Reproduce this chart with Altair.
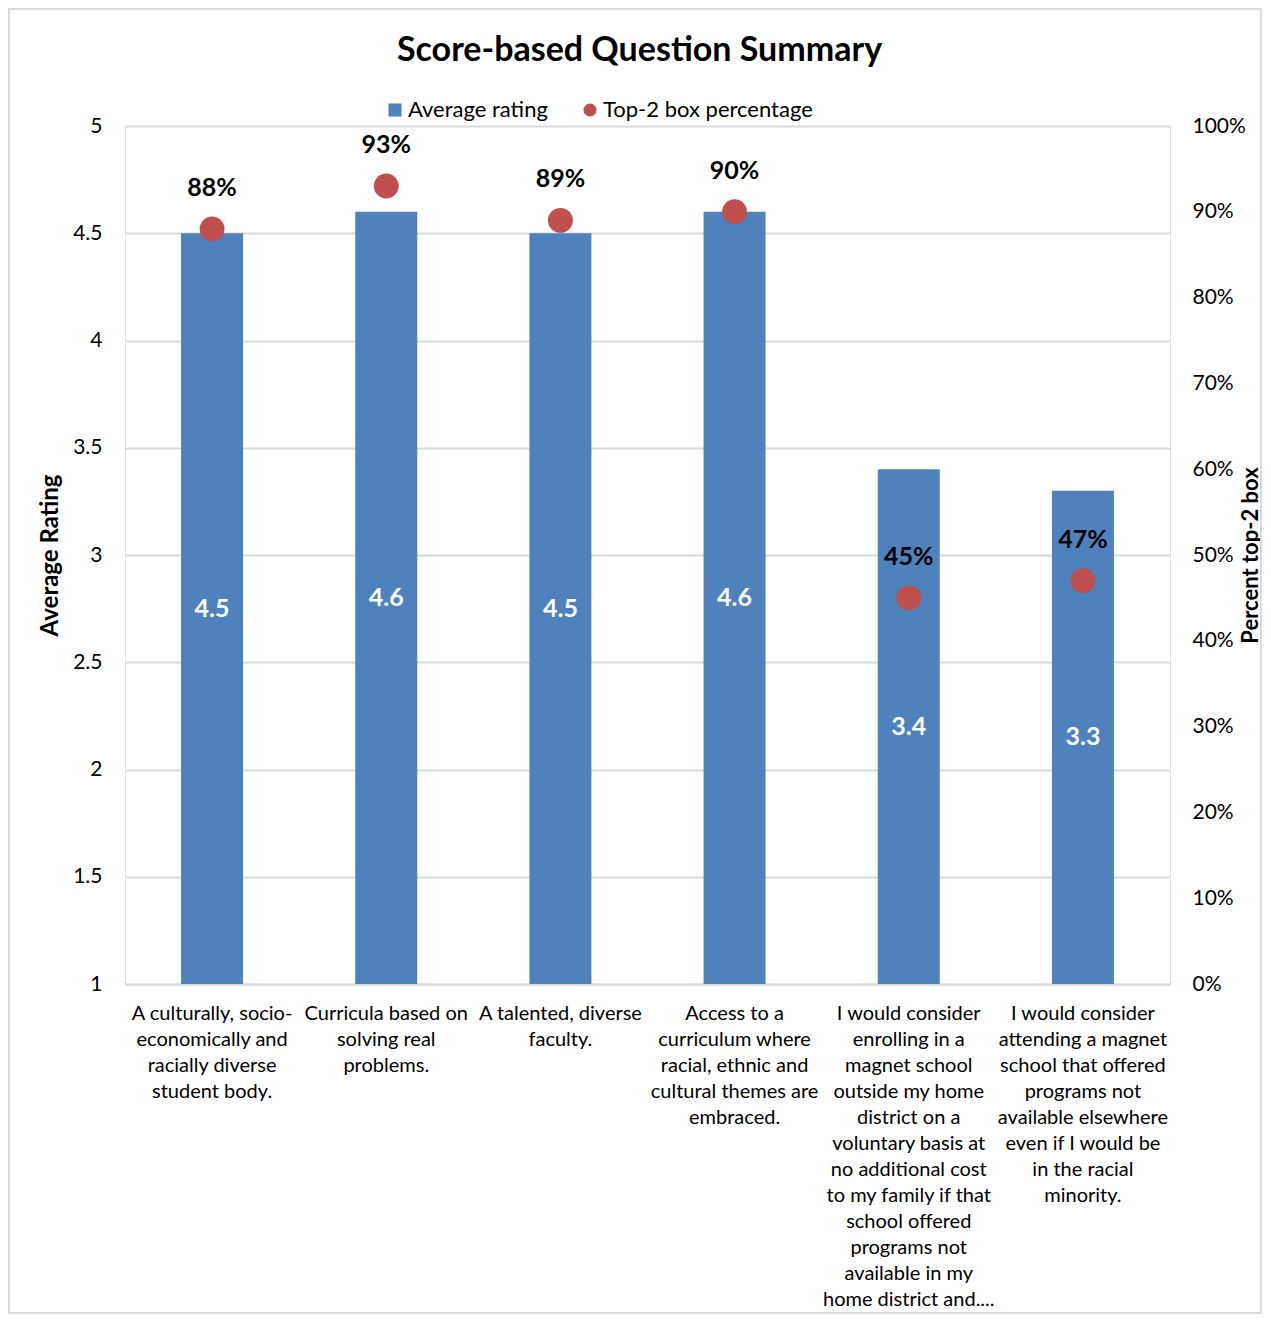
import altair as alt
import pandas as pd

categories = [
    "A culturally, socio-|economically and|racially diverse|student body.",
    "Curricula based on|solving real|problems.",
    "A talented, diverse|faculty.",
    "Access to a|curriculum where|racial, ethnic and|cultural themes are|embraced.",
    "I would consider|enrolling in a|magnet school|outside my home|district on a|voluntary basis at|no additional cost|to my family if that|school offered|programs not|available in my|home district and....",
    "I would consider|attending a magnet|school that offered|programs not|available elsewhere|even if I would be|in the racial|minority.",
]
avg_rating = [4.5, 4.6, 4.5, 4.6, 3.4, 3.3]
top2_pct = [0.88, 0.93, 0.89, 0.90, 0.45, 0.47]
left_ticks = [1, 1.5, 2, 2.5, 3, 3.5, 4, 4.5, 5]
right_ticks = [0, 0.1, 0.2, 0.3, 0.4, 0.5, 0.6, 0.7, 0.8, 0.9, 1.0]
bar_series = "Average rating"
point_series = "Top-2 box percentage"
bar_color = "#4F81BD"
point_color = "#C0504D"

df = pd.DataFrame({
    "cat": categories,
    "rating": avg_rating,
    "pct": top2_pct,
    "bar_series": [bar_series] * len(categories),
    "point_series": [point_series] * len(categories),
})

FONT = "Lato"
W, H = 1045, 858

xenc = alt.X(
    "cat:N",
    sort=None,
    scale=alt.Scale(paddingInner=0.644, paddingOuter=0.322),
    axis=alt.Axis(
        title=None,
        labelExpr="split(datum.label, '|')",
        labelAngle=0,
        labelFontSize=20,
        labelLineHeight=26,
        labelBaseline="top",
        labelPadding=19,
        labelLimit=0,
        labelColor="#000000",
        ticks=False,
        domain=True,
        domainColor="#D9D9D9",
        domainWidth=2,
        labelFont=FONT,
    ),
)


def make_legend(x, shape):
    return alt.Legend(
        orient="none",
        legendX=x,
        legendY=-27,
        direction="horizontal",
        title=None,
        labelFontSize=22,
        labelFont=FONT,
        labelColor="#000000",
        labelLimit=0,
        symbolSize=170,
        symbolType=shape,
        symbolStrokeWidth=0,
        symbolOpacity=1,
        labelOffset=2,
        padding=0,
    )


base = alt.Chart(df)

yleft = alt.Y(
    "rating:Q",
    scale=alt.Scale(domain=[1, 5], zero=False, nice=False),
    axis=alt.Axis(
        orient="left",
        values=left_ticks,
        format=".1~f",
        title="Average Rating",
        titleFontSize=24,
        titleFont=FONT,
        titleFontWeight="bold",
        titleColor="#000000",
        titlePadding=10,
        labelFontSize=21,
        labelFont=FONT,
        labelColor="#000000",
        labelPadding=23,
        ticks=False,
        domain=False,
        grid=True,
        gridColor="#D9D9D9",
        gridWidth=2,
    ),
)

bars = base.mark_bar().encode(
    x=xenc,
    y=yleft,
    y2=alt.datum(1),
    fill=alt.Fill(
        "bar_series:N",
        scale=alt.Scale(domain=[bar_series], range=[bar_color]),
        legend=make_legend(259, "square"),
    ),
)

bar_labels = base.transform_calculate(mid="(datum.rating + 1) / 2").mark_text(
    color="white", fontWeight="bold", fontSize=25, font=FONT, baseline="middle"
).encode(
    x=alt.X("cat:N", sort=None),
    y=alt.Y("mid:Q"),
    text=alt.Text("rating:Q", format=".1f"),
)

left_layer = alt.layer(bars, bar_labels)

yright = alt.Y(
    "pct:Q",
    scale=alt.Scale(domain=[0, 1], nice=False),
    axis=alt.Axis(
        orient="right",
        values=right_ticks,
        format=".0%",
        title="Percent top-2 box",
        titleAngle=270,
        titleBaseline="top",
        titleFontSize=22,
        titleFont=FONT,
        titleFontWeight="bold",
        titleColor="#000000",
        titlePadding=-5,
        labelFontSize=21,
        labelFont=FONT,
        labelColor="#000000",
        labelPadding=22,
        ticks=False,
        domain=False,
        grid=False,
    ),
)

points = base.mark_circle(size=620, opacity=1).encode(
    x=alt.X("cat:N", sort=None),
    y=yright,
    color=alt.Color(
        "point_series:N",
        scale=alt.Scale(domain=[point_series], range=[point_color]),
        legend=make_legend(454, "circle"),
    ),
)

pct_labels = base.mark_text(
    color="black", fontWeight="bold", fontSize=25, font=FONT, baseline="middle", dy=-41
).encode(
    x=alt.X("cat:N", sort=None),
    y=alt.Y("pct:Q"),
    text=alt.Text("pct:Q", format=".0%"),
)

right_layer = alt.layer(points, pct_labels)

frame = alt.Chart(pd.DataFrame({"f": [0]})).mark_rect(
    fill=None, stroke="#D9D9D9", strokeWidth=2
).encode(
    x=alt.value(-116),
    x2=alt.value(1136),
    y=alt.value(-117),
    y2=alt.value(1187),
)

chart = alt.layer(frame, left_layer, right_layer).resolve_scale(
    y="independent"
).properties(
    width=W,
    height=H,
    autosize=alt.AutoSizeParams(type="none"),
    padding={"left": 117, "top": 118, "right": 92, "bottom": 330},
    title=alt.Title(
        "Score-based Question Summary",
        fontSize=34,
        font=FONT,
        fontWeight="bold",
        color="#000000",
        anchor="middle",
        frame="group",
        baseline="alphabetic",
        offset=-87,
        dx=-8,
    ),
).configure_view(stroke=None).configure(background="white")

chart.save("out.html", embed_options={"renderer": "svg", "actions": False})
